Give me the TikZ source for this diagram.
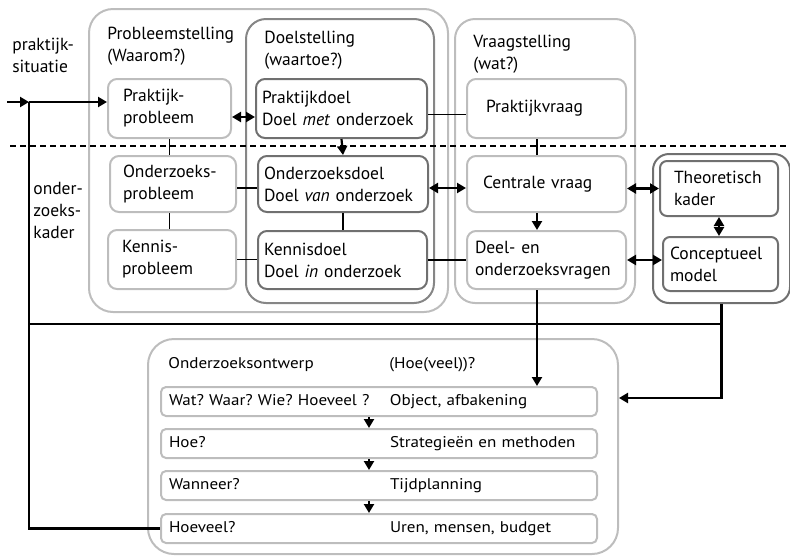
\documentclass[tikz,border=0pt]{standalone}
\usepackage{fontspec}
\setmainfont{PT Sans}
\newfontfamily\rowfont{PT Sans}[FakeStretch=1.1, WordSpace=0.8]
\usetikzlibrary{arrows.meta}
\definecolor{lgray}{HTML}{BDBDBD}
\definecolor{mgray}{HTML}{868686}
\definecolor{dgray}{HTML}{707070}
\frenchspacing
\tikzset{every picture/.style={line width=0.75pt}}
\tikzset{
  big/.style={font=\fontsize{17.5}{22}\selectfont},
  small/.style={font=\rowfont\fontsize{15.5}{19}\selectfont},
  outer/.style={anchor=north west, inner sep=0pt, line width=2pt, rounded corners=24pt},
  lbox/.style={draw=lgray, line width=2pt, rounded corners=9pt, anchor=north west, align=left, inner ysep=0pt, big},
  dbox/.style={lbox, draw=dgray},
  row/.style={draw=lgray, line width=2pt, rounded corners=5pt, anchor=north west, align=left, inner xsep=8pt, inner ysep=0pt, text width=420pt, minimum height=29pt, small},
  head/.style={anchor=north west, align=left, inner sep=0pt, font=\fontsize{17.5}{22}\selectfont},
  arr/.style={-{Triangle[length=9pt,width=10pt]}, line width=2.2pt},
  darr/.style={{Triangle[length=9pt,width=10pt]}-{Triangle[length=9pt,width=10pt]}, line width=2.2pt},
  ln/.style={line width=1.3pt}
}

\begin{document}
\begin{tikzpicture}[x=1pt, y=-1pt]
  \useasboundingbox (0,0) rectangle (790,555);

  % Kaders
  \node[outer, draw=lgray, minimum width=359pt, minimum height=303pt] (ps) at (88,8) {};
  \node[outer, draw=mgray, rounded corners=20pt, minimum width=188pt, minimum height=284pt] (ds) at (245,18) {};
  \node[outer, draw=lgray, rounded corners=20pt, minimum width=180pt, minimum height=284pt] (vs) at (454,18) {};
  \node[outer, draw=dgray, rounded corners=16pt, minimum width=137pt, minimum height=149pt] (tf) at (652,153) {};
  \node[outer, draw=lgray, rounded corners=26pt, minimum width=470pt, minimum height=215pt] (oo) at (147,338) {};

  % Koppen
  \node[head] (hpr) at (12,38) {praktijk-\\situatie};
  \node[head] (hok) at (33,181.5) {onder-\\zoeks-\\kader};
  \node[head] (hps) at (107,27) {Probleemstelling\\(Waarom?)};
  \node[head] (hds) at (264,31) {Doelstelling\\(waartoe?)};
  \node[head] (hvs) at (473,35) {Vraagstelling\\(wat?)};

  % Blokken
  \node[lbox, minimum height=59pt, text width=93pt, inner xsep=15pt] (pp) at (107,78) {Praktijk-\\probleem};
  \node[lbox, minimum height=56pt, text width=100pt, inner xsep=13pt] (op) at (109,155) {Onderzoeks-\\probleem};
  \node[lbox, minimum height=59pt, text width=100pt, inner xsep=14pt] (kp) at (107,229) {Kennis-\\probleem};
  \node[dbox, minimum height=59pt, text width=159pt, inner xsep=6pt] (pd) at (255,78) {Praktijkdoel\\Doel \textit{met} onderzoek};
  \node[dbox, minimum height=56pt, text width=158pt, inner xsep=6pt] (od) at (257,155) {Onderzoeksdoel\\Doel \textit{van} onderzoek};
  \node[dbox, minimum height=58pt, text width=157pt, inner xsep=6pt] (kd) at (257,230) {Kennisdoel\\Doel \textit{in} onderzoek};
  \node[lbox, minimum height=59pt, text width=121pt, inner xsep=19pt] (pv) at (466,78) {Praktijkvraag};
  \node[lbox, minimum height=56pt, text width=127pt, inner xsep=16pt] (cv) at (466,155) {Centrale vraag};
  \node[lbox, minimum height=58pt, text width=143pt, inner xsep=8pt] (dv) at (466,230) {Deel- en\\onderzoeksvragen};
  \node[dbox, rounded corners=7pt, minimum height=55pt, text width=90pt, inner xsep=14pt] (tk) at (659,160) {Theoretisch\\kader};
  \node[dbox, rounded corners=7pt, minimum height=54pt, text width=101pt, inner xsep=7pt] (cm) at (662,236) {Conceptueel\\model};

  % Onderzoeksontwerp
  \node[small, anchor=base west, inner sep=0pt] (ot) at (168,368) {\makebox[221pt][l]{Onderzoeksontwerp}(Hoe(veel))?};
  \foreach \i/\y/\a/\b in {1/386/{Wat? Waar? Wie? Hoeveel ?}/{Object, afbakening},
      2/428/{Hoe?}/{Strategieën en methoden}, 3/470/{Wanneer?}/{Tijdplanning},
      4/513/{Hoeveel?}/{Uren, mensen, budget}}
    \node[row] (r\i) at (160,\y) {\makebox[221pt][l]{\a}\b};
  \coordinate (ax) at (369,0);
  \foreach \i/\j in {1/2, 2/3, 3/4}
    \draw[arr] (r\i.south -| ax) -- (r\j.north -| ax);

  % Stippellijn
  \coordinate (d1) at (10,146);
  \coordinate (d2) at (790,146);
  \draw[line width=2pt, dash pattern=on 6pt off 4pt] (d1) -- (d2);

  % Verbindingen
  \coordinate (src) at (7,102);
  \coordinate (jn) at (29,102);
  \coordinate (hl) at (tf.south |- 0,324);
  \draw[arr] (src) -- (jn);
  \draw[arr] (jn) -- (jn -| pp.west);
  \draw[line width=2.2pt] (jn) |- (r4.west);
  \draw[line width=2.2pt] (jn |- hl) -- (hl);
  \draw[arr] (tf.south) |- (oo.east |- 0,398);

  \draw[darr] ([yshift=-8.5pt]pp.east) -- ([yshift=-8.5pt]pp.east -| pd.west);
  \draw[darr] ([yshift=-4pt]od.east) -- ([yshift=-4pt]od.east -| cv.west);
  \draw[darr] (tk.west -| cv.east) -- (tk.west);
  \draw[darr] (dv.east) -- (dv.east -| cm.west);
  \draw[darr] (tk.south) -- (tk.south |- cm.north);

  \draw[arr] (pd.south) -- (od.north);
  \draw[line width=2pt] ([xshift=-9.5pt]pv.south) -- ([xshift=-9.5pt]cv.north);
  \draw[arr] ([xshift=-9.5pt]cv.south) -- ([xshift=-9.5pt]dv.north);
  \draw[arr] ([xshift=-9.5pt]dv.south) -- ([xshift=-9.5pt]dv.south |- r1.north);

  \draw[ln] (pp.south) -- (pp.south |- op.north);
  \draw[ln] (pp.south |- op.south) -- (pp.south |- kp.north);
  \draw[ln] ([yshift=-4pt]op.east) -- ([yshift=-4pt]op.east -| od.west);
  \draw[ln] (kp.east) -- (kp.east -| kd.west);
  \draw[ln] (od.south) -- (od.south |- kd.north);
  \draw[ln] ([yshift=-6pt]pd.east) -- ([yshift=-6pt]pd.east -| pv.west);
  \draw[ln] (kd.east) -- (kd.east -| dv.west);
\end{tikzpicture}
\end{document}
